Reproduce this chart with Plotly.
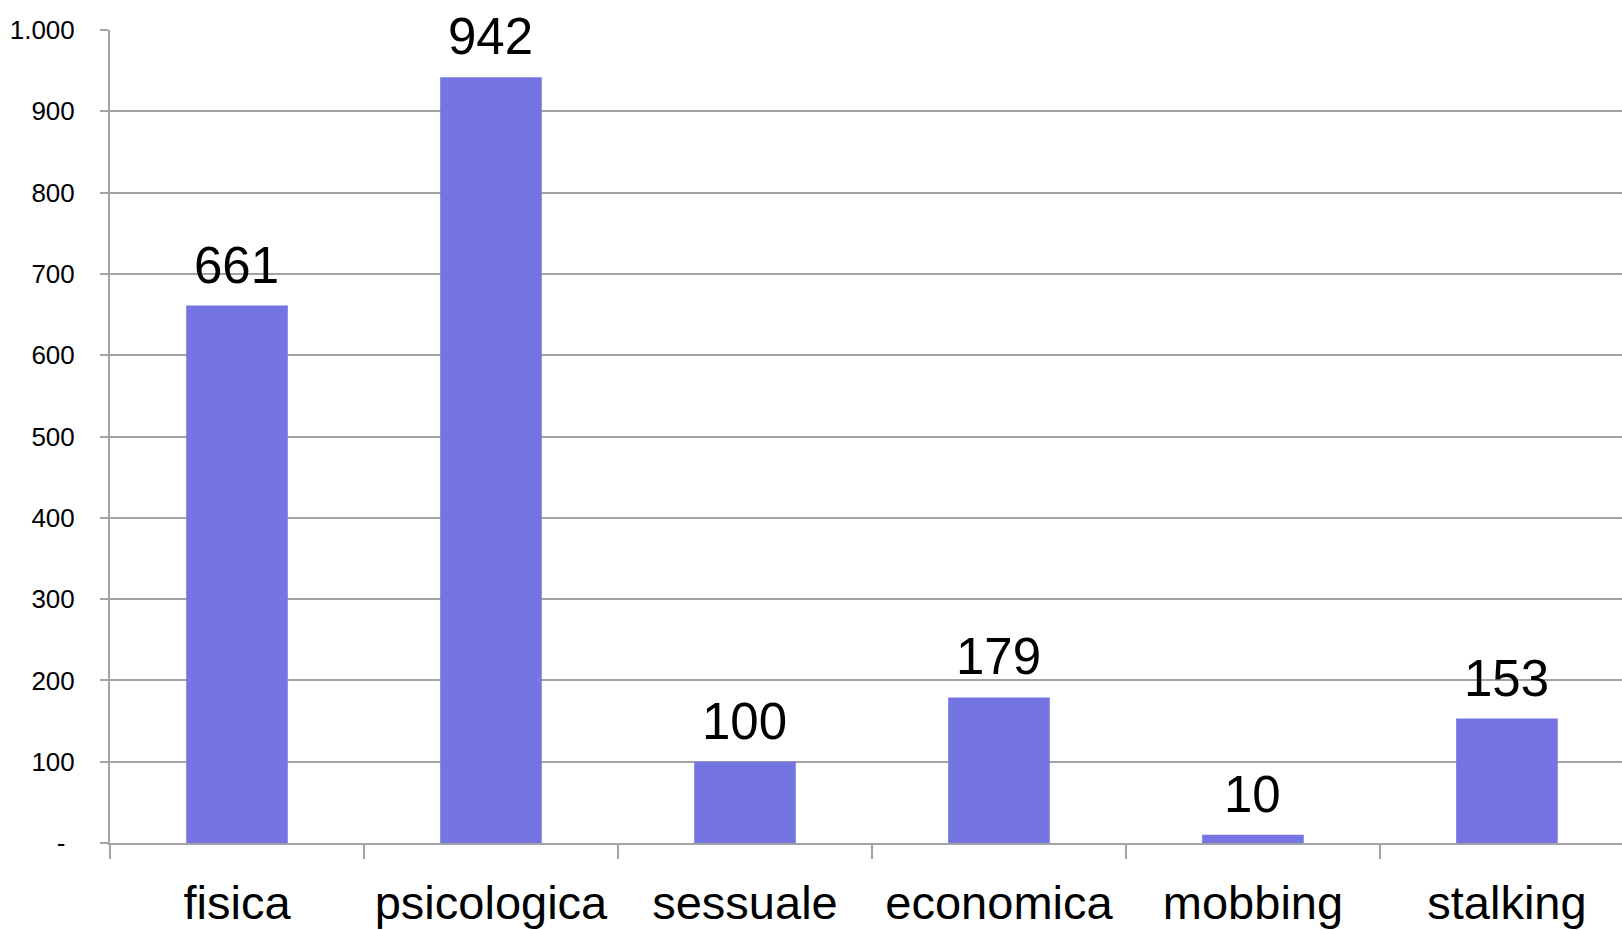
import plotly.graph_objects as go

categories = ["fisica", "psicologica", "sessuale", "economica", "mobbing", "stalking"]
values = [661, 942, 100, 179, 10, 153]
y_tickvals = [0, 100, 200, 300, 400, 500, 600, 700, 800, 900, 1000]
y_ticktext = ["-\u00a0\u200a", "100", "200", "300", "400", "500", "600", "700", "800", "900", "1.000"]

FONT = "Liberation Sans, Arial, Helvetica, sans-serif"
GRID = "#a3a3a3"

fig = go.Figure()
fig.add_trace(go.Bar(
    x=categories,
    y=values,
    width=0.4,
    marker=dict(color="#7474e3", line=dict(width=0)),
    hoverinfo="x+y",
))

for c, v in zip(categories, values):
    fig.add_annotation(
        x=c, y=v, text=str(v), showarrow=False,
        yanchor="bottom", yshift=10,
        font=dict(family=FONT, size=51, color="#000000"),
    )

fig.update_layout(
    width=1622, height=930,
    margin=dict(l=110, r=0, t=30, b=87, autoexpand=False),
    paper_bgcolor="white",
    plot_bgcolor="white",
    showlegend=False,
    font=dict(family=FONT, color="#000000"),
)

fig.update_xaxes(
    range=[-0.5, 5.453],
    automargin=False,
    showline=True, linecolor=GRID, linewidth=2,
    showgrid=False,
    ticks="outside", tickson="boundaries", ticklen=14, tickwidth=2, tickcolor=GRID,
    tickfont=dict(family=FONT, size=47, color="#000000"),
    ticklabelstandoff=18,
)

fig.update_yaxes(
    range=[0, 1000],
    automargin=False,
    tickvals=y_tickvals, ticktext=y_ticktext,
    showline=True, linecolor=GRID, linewidth=2,
    showgrid=True, gridcolor=GRID, gridwidth=2,
    zeroline=False,
    ticks="outside", ticklen=8, tickwidth=2, tickcolor=GRID,
    tickfont=dict(family=FONT, size=26, color="#000000"),
    ticklabelstandoff=20,
)

fig.write_html(
    "out.html",
    config={"displayModeBar": False},
    post_script="document.body.style.margin='0';document.body.style.overflow='hidden';",
)
